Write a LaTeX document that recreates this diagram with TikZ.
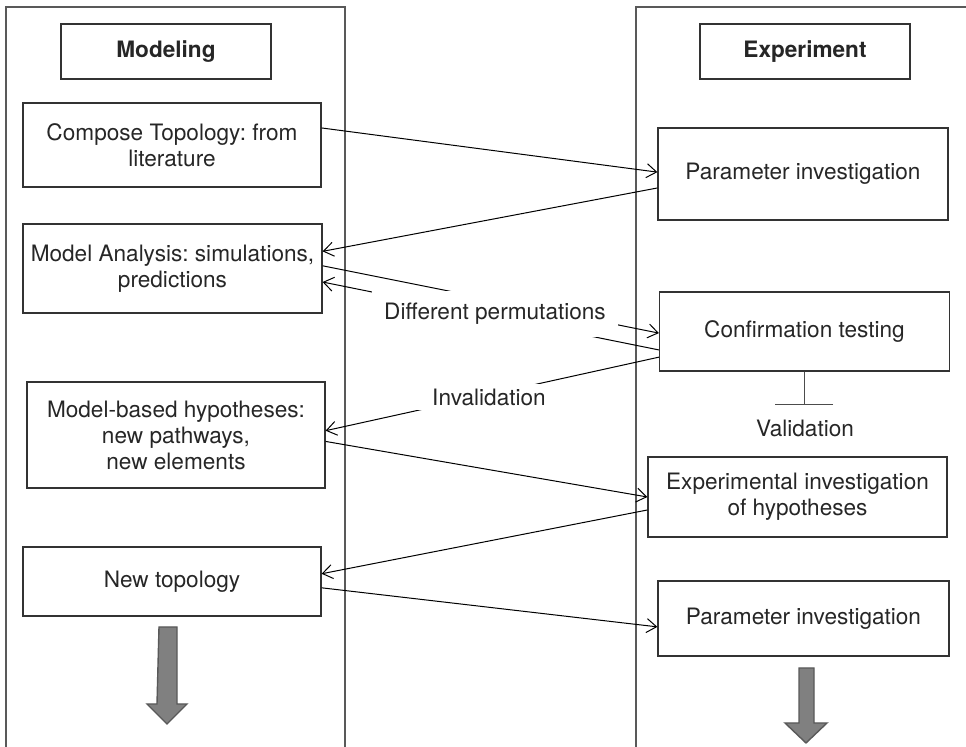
\documentclass[tikz,border=0pt]{standalone}
\usepackage{fontspec}
\setmainfont{TeX Gyre Heros}
\usetikzlibrary{calc}
\usetikzlibrary{arrows.meta}

\begin{document}
\frenchspacing
\begin{tikzpicture}[
        x=0.5pt,y=-0.5pt,
        font=\fontsize{11.3}{13}\selectfont,
        text=black!85,
        BoxCfg/.style={
            draw=black!80,
            line width=0.6pt,
            align=center,
            inner sep=0pt
        },
        TitleCfg/.style={
            BoxCfg,
            font=\fontsize{11.3}{13}\selectfont\bfseries,
            minimum width=105pt,
            minimum height=27.5pt
        },
        LinkCfg/.style={line width=0.5pt,-{Straight Barb[length=5pt,width=7pt,line width=0.5pt]}},
        PlainCfg/.style={line width=0.5pt},
        LabelCfg/.style={fill=white,inner sep=0pt},
        FrameCfg/.style={draw=black!65,line width=0.9pt},
        FatArrowCfg/.style={fill=black!50,draw=black!65,line width=0.7pt}
    ]

    \useasboundingbox (0,0) rectangle (966,747);

    %columns
    \draw[FrameCfg] (6,747)--(6,7)--(345,7)--(345,747);
    \draw[FrameCfg] (636,747)--(636,7)--(966,7);

    %modeling side
    \node[TitleCfg] (model) at (166,51.5) {Modeling};
    \node[BoxCfg,minimum width=149pt,minimum height=42pt] (compose) at (172,145) {Compose Topology: from\\literature};
    \node[BoxCfg,minimum width=149.5pt,minimum height=44.5pt] (analysis) at (172.5,268.5) {Model Analysis: simulations,\\predictions};
    \node[BoxCfg,minimum width=149pt,minimum height=53pt] (hypo) at (176,435) {Model-based hypotheses:\\new pathways,\\new elements};
    \node[BoxCfg,minimum width=149pt,minimum height=34.5pt] (newtopo) at (172,581.5) {New topology};

    %experiment side
    \node[TitleCfg] (expt) at (805,51.5) {Experiment};
    \node[BoxCfg,minimum width=145pt,minimum height=46pt] (param1) at (803,174) {Parameter investigation};
    \node[BoxCfg,minimum width=145pt,minimum height=39.5pt] (confirm) at (804.5,331.5) {Confirmation testing};
    \node[BoxCfg,minimum width=149.5pt,minimum height=40pt] (expinv) at (797.5,497) {Experimental investigation\\of hypotheses};
    \node[BoxCfg,minimum width=145.5pt,minimum height=37.5pt] (param2) at (803.5,618.5) {Parameter investigation};

    %connections
    \draw[LinkCfg] ($(compose.north east)!0.3!(compose.south east)$)--($(param1.north west)!0.48!(param1.south west)$);
    \draw[LinkCfg] ($(param1.north west)!0.65!(param1.south west)$)--($(analysis.north east)!0.31!(analysis.south east)$);
    \draw[LinkCfg] ($(analysis.north east)!0.47!(analysis.south east)$)--($(confirm.north west)!0.52!(confirm.south west)$);
    \draw[LinkCfg] ($(confirm.north west)!0.73!(confirm.south west)$)--($(analysis.north east)!0.65!(analysis.south east)$);
    \draw[LinkCfg] ($(confirm.north west)!0.82!(confirm.south west)$)--($(hypo.north east)!0.46!(hypo.south east)$);
    \draw[LinkCfg] ($(hypo.north east)!0.56!(hypo.south east)$)--($(expinv.north west)!0.5!(expinv.south west)$);
    \draw[LinkCfg] ($(expinv.north west)!0.66!(expinv.south west)$)--($(newtopo.north east)!0.39!(newtopo.south east)$);
    \draw[LinkCfg] ($(newtopo.north east)!0.59!(newtopo.south east)$)--($(param2.north west)!0.61!(param2.south west)$);

    %labels on the links
    \node[LabelCfg,minimum width=123pt,minimum height=23pt] (perm) at (495,314) {Different permutations};
    \node[LabelCfg,minimum width=77pt,minimum height=13pt] (invalid) at (489,397) {Invalidation};

    %validation bar
    \coordinate (vbar) at (804,405);
    \draw[PlainCfg,draw=black!70,-{Bar[width=29pt,line width=0.5pt]}] (confirm.south -| vbar)--(vbar);
    \node[inner sep=0pt] (valid) at (805,428) {Validation};

    %big arrows
    \draw[FatArrowCfg] (159,627)--++(18,0)--++(0,77)--++(10,0)--++(-20,20)--++(-20,-20)--++(10,0)--cycle;
    \draw[FatArrowCfg] (799,668)--++(15,0)--++(0,55)--++(13,0)--++(-21,20)--++(-21,-20)--++(14,0)--cycle;

\end{tikzpicture}
\end{document}
